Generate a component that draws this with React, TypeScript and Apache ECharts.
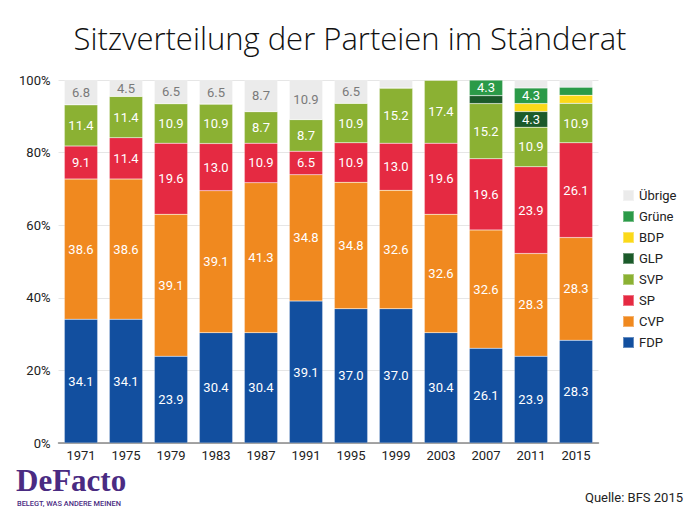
import React, { useEffect, useRef } from "react";
import * as echarts from "echarts";

const years = ["1971", "1975", "1979", "1983", "1987", "1991", "1995", "1999", "2003", "2007", "2011", "2015"];
const fdp = [34.1, 34.1, 23.9, 30.4, 30.4, 39.1, 37.0, 37.0, 30.4, 26.1, 23.9, 28.3];
const cvp = [38.6, 38.6, 39.1, 39.1, 41.3, 34.8, 34.8, 32.6, 32.6, 32.6, 28.3, 28.3];
const sp = [9.1, 11.4, 19.6, 13.0, 10.9, 6.5, 10.9, 13.0, 19.6, 19.6, 23.9, 26.1];
const svp = [11.4, 11.4, 10.9, 10.9, 8.7, 8.7, 10.9, 15.2, 17.4, 15.2, 10.9, 10.9];
const glp = [0, 0, 0, 0, 0, 0, 0, 0, 0, 2.2, 4.3, 0];
const bdp = [0, 0, 0, 0, 0, 0, 0, 0, 0, 0, 2.2, 2.2];
const gruene = [0, 0, 0, 0, 0, 0, 0, 0, 0, 4.3, 4.3, 2.2];
const uebrige = [6.8, 4.5, 6.5, 6.5, 8.7, 10.9, 6.5, 2.2, 0, 0, 2.2, 2.2];

const seriesDefs = [
  { name: "FDP", data: fdp, color: "#124f9f", label: "#ffffff" },
  { name: "CVP", data: cvp, color: "#f0891f", label: "#ffffff" },
  { name: "SP", data: sp, color: "#e52a42", label: "#ffffff" },
  { name: "SVP", data: svp, color: "#8bb133", label: "#ffffff" },
  { name: "GLP", data: glp, color: "#1b5a2a", label: "#ffffff" },
  { name: "BDP", data: bdp, color: "#fbd919", label: "#ffffff" },
  { name: "Grüne", data: gruene, color: "#2b9a48", label: "#ffffff" },
  { name: "Übrige", data: uebrige, color: "#ebebeb", label: "#7a7a7a" },
];
const legendOrder = ["Übrige", "Grüne", "BDP", "GLP", "SVP", "SP", "CVP", "FDP"];

export default function App() {
  const ref = useRef<HTMLDivElement>(null);
  useEffect(() => {
    if (!ref.current) return;
    const chart = echarts.init(ref.current, null, { renderer: "svg" });
    const font = "Roboto";
    chart.setOption({
      animation: false,
      backgroundColor: "#ffffff",
      title: {
        text: "Sitzverteilung der Parteien im Ständerat",
        left: "center",
        top: 17,
        textStyle: { fontFamily: "Open Sans", fontWeight: 300, fontSize: 31, color: "#111" },
      },
      legend: {
        data: legendOrder,
        orient: "vertical",
        left: 617,
        top: 184,
        itemWidth: 11,
        itemHeight: 11,
        itemGap: 8,
        icon: "rect",
        textStyle: { fontFamily: font, fontSize: 13, color: "#222" },
      },
      grid: { left: 58.5, right: 101.5, top: 80, bottom: 78 },
      xAxis: {
        type: "category",
        data: years,
        axisTick: { show: false },
        axisLine: { lineStyle: { color: "#888", width: 1.5 } },
        axisLabel: { fontFamily: font, fontSize: 13, color: "#222", margin: 6 },
      },
      yAxis: {
        type: "value",
        min: 0,
        max: 100,
        interval: 20,
        axisLabel: { formatter: "{value}%", fontFamily: font, fontSize: 13, color: "#222", margin: 8 },
        splitLine: { lineStyle: { color: "#e6e6e6" } },
      },
      series: seriesDefs.map((s) => ({
        name: s.name,
        type: "bar",
        stack: "total",
        data: s.data,
        barCategoryGap: "26%",
        itemStyle: { color: s.color, borderColor: "rgba(255,255,255,0.35)", borderWidth: 0.5 },
        label: {
          show: true,
          position: "inside",
          color: s.label,
          fontFamily: font,
          fontSize: 13,
          formatter: (p: any) => (p.value >= 3 ? Number(p.value).toFixed(1) : ""),
        },
      })),
      graphic: [
        {
          type: "text",
          left: 16,
          top: 465,
          style: { text: "DeFacto", fontFamily: "Liberation Serif", fontSize: 31, fontWeight: "bold", fill: "#4a2b82" },
        },
        {
          type: "text",
          left: 17,
          top: 500,
          style: { text: "BELEGT, WAS ANDERE MEINEN", fontFamily: font, fontSize: 7.4, fill: "#4a2b82", fontWeight: 500 },
        },
        {
          type: "text",
          right: 17,
          top: 491,
          style: { text: "Quelle: BFS 2015", fontFamily: font, fontSize: 13, fill: "#222" },
        },
      ],
    });
    return () => chart.dispose();
  }, []);
  return <div ref={ref} style={{ width: 700, height: 521, position: "absolute", left: 0, top: 0 }} />;
}
